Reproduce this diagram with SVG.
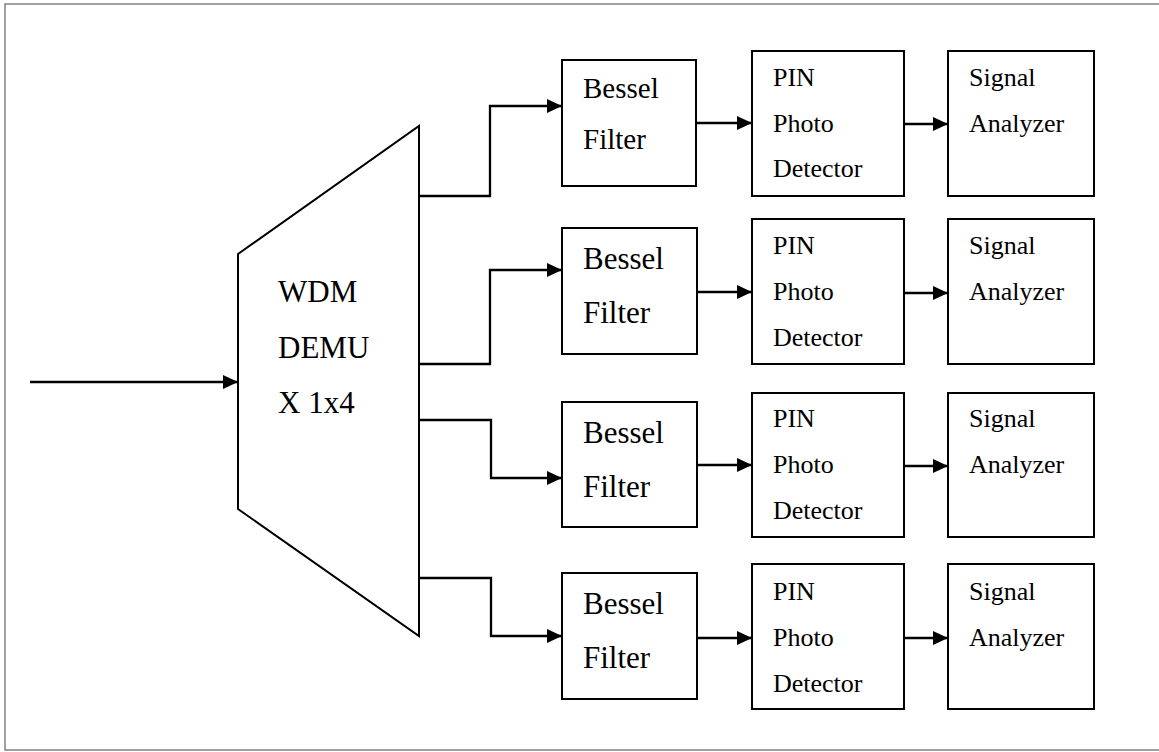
<svg xmlns="http://www.w3.org/2000/svg" width="1159" height="752" viewBox="0 0 1159 752">
<style>
.frame{fill:none;stroke:#6e6e6e;stroke-width:1.3}
.box{fill:#fff;stroke:#000;stroke-width:2}
.wire{fill:none;stroke:#000;stroke-width:2.3}
text{font-family:"Liberation Serif","Times New Roman",serif;fill:#000}
.b1{font-size:29px}
.b{font-size:31px}
.s{font-size:26px}
</style>
<defs>
<marker id="ah" viewBox="0 0 15 14" refX="15" refY="7" markerWidth="15" markerHeight="14" markerUnits="userSpaceOnUse" orient="auto">
<path d="M0,0 L15,7 L0,14 Z" fill="#000"/>
</marker>
</defs>
<rect fill="#fff" x="0" y="0" width="1159" height="752"/>
<rect class="frame" x="5" y="4" width="1160" height="746"/>

<g id="demux">
<polygon class="box" points="238,254 419,126 419,636 238,509"/>
<text class="b" x="278" y="302">WDM</text>
<text class="b" x="278" y="358">DEMU</text>
<text class="b" x="278" y="413">X 1x4</text>
</g>

<g id="bessel1"><rect class="box" x="562" y="60" width="134" height="126"/><text class="b1" x="583" y="98">Bessel</text><text class="b1" x="583" y="149">Filter</text></g>
<g id="bessel2"><rect class="box" x="562" y="228" width="135" height="126"/><text class="b" x="583" y="269">Bessel</text><text class="b" x="583" y="323">Filter</text></g>
<g id="bessel3"><rect class="box" x="562" y="402" width="135" height="125"/><text class="b" x="583" y="443">Bessel</text><text class="b" x="583" y="497">Filter</text></g>
<g id="bessel4"><rect class="box" x="562" y="573" width="135" height="126"/><text class="b" x="583" y="614">Bessel</text><text class="b" x="583" y="668">Filter</text></g>

<g id="pin1"><rect class="box" x="752" y="51" width="152" height="145"/><text class="s" x="773" y="86">PIN</text><text class="s" x="773" y="132">Photo</text><text class="s" x="773" y="177">Detector</text></g>
<g id="pin2"><rect class="box" x="752" y="219" width="152" height="145"/><text class="s" x="773" y="254">PIN</text><text class="s" x="773" y="300">Photo</text><text class="s" x="773" y="346">Detector</text></g>
<g id="pin3"><rect class="box" x="752" y="393" width="152" height="144"/><text class="s" x="773" y="427">PIN</text><text class="s" x="773" y="473">Photo</text><text class="s" x="773" y="519">Detector</text></g>
<g id="pin4"><rect class="box" x="752" y="564" width="152" height="145"/><text class="s" x="773" y="600">PIN</text><text class="s" x="773" y="646">Photo</text><text class="s" x="773" y="692">Detector</text></g>

<g id="sig1"><rect class="box" x="948" y="51" width="146" height="145"/><text class="s" x="969" y="86">Signal</text><text class="s" x="969" y="132">Analyzer</text></g>
<g id="sig2"><rect class="box" x="948" y="219" width="146" height="145"/><text class="s" x="969" y="254">Signal</text><text class="s" x="969" y="300">Analyzer</text></g>
<g id="sig3"><rect class="box" x="948" y="393" width="146" height="144"/><text class="s" x="969" y="427">Signal</text><text class="s" x="969" y="473">Analyzer</text></g>
<g id="sig4"><rect class="box" x="948" y="564" width="146" height="145"/><text class="s" x="969" y="600">Signal</text><text class="s" x="969" y="646">Analyzer</text></g>

<g id="connectors">
<path class="wire" d="M30,382 H238" marker-end="url(#ah)"/>
<path class="wire" d="M419,196 H490 V106 H562" marker-end="url(#ah)"/>
<path class="wire" d="M419,364 H490 V270 H562" marker-end="url(#ah)"/>
<path class="wire" d="M419,420 H491 V478 H562" marker-end="url(#ah)"/>
<path class="wire" d="M419,578 H491 V636 H562" marker-end="url(#ah)"/>
<path class="wire" d="M696,123 H752" marker-end="url(#ah)"/>
<path class="wire" d="M697,292 H752" marker-end="url(#ah)"/>
<path class="wire" d="M697,465 H752" marker-end="url(#ah)"/>
<path class="wire" d="M697,638 H752" marker-end="url(#ah)"/>
<path class="wire" d="M904,124 H948" marker-end="url(#ah)"/>
<path class="wire" d="M904,293 H948" marker-end="url(#ah)"/>
<path class="wire" d="M904,466 H948" marker-end="url(#ah)"/>
<path class="wire" d="M904,638 H948" marker-end="url(#ah)"/>
</g>
</svg>
